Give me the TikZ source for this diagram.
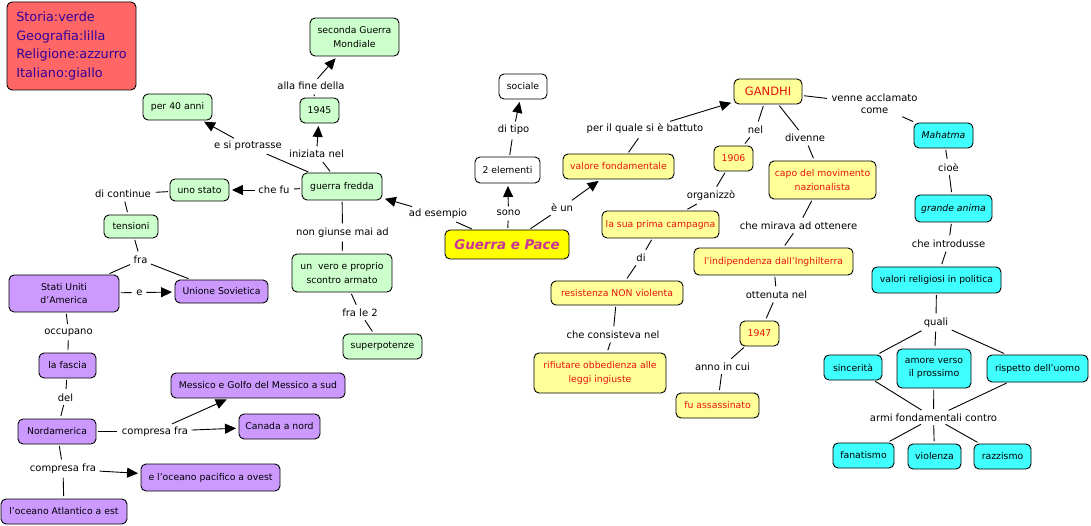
\documentclass[tikz,border=0pt]{standalone}
\usepackage{fontspec}
\setmainfont{DejaVu Sans}
\usetikzlibrary{arrows.meta}
\pgfdeclarelayer{bg}
\pgfsetlayers{bg,main}
\definecolor{legenda}{HTML}{FF6666}
\definecolor{legtesto}{HTML}{330099}
\definecolor{verde}{HTML}{CCFFCC}
\definecolor{lilla}{HTML}{CC99FF}
\definecolor{azzurro}{HTML}{40FFFF}
\definecolor{giallo}{HTML}{FFFF99}
\definecolor{gialloforte}{HTML}{FFFF00}
\definecolor{rosso}{HTML}{E8120C}
\definecolor{magenta}{HTML}{CC3399}
\tikzset{
    concept/.style={rectangle, rounded corners=5pt, draw, line width=0.9pt, align=center,
        inner sep=0pt, font=\fontsize{9.3}{13.5}\selectfont},
    storia/.style={concept, fill=verde},
    geo/.style={concept, fill=lilla},
    relig/.style={concept, fill=azzurro},
    ital/.style={concept, fill=giallo, text=rosso},
    neutro/.style={concept, fill=white},
    gep/.style={concept, fill=gialloforte, text=magenta, font=\fontsize{13.4}{15}\selectfont\bfseries\itshape},
    lnk/.style={inner sep=2pt, align=center, font=\fontsize{10}{12}\selectfont},
    every edge/.append style={line width=0.9pt, shorten <=1.5pt, shorten >=2.5pt},
    >={Triangle[length=11pt, width=10pt]}
}

\begin{document}
\begin{tikzpicture}[x=1pt, y=-1pt]
    \useasboundingbox (0,0) rectangle (1091,526);

    % legenda
    \node (leg) at (71.5,46) [concept, fill=legenda, text=legtesto, align=left, minimum width=129, minimum height=88,
        font=\fontsize{12.8}{18.7}\selectfont] {Storia:verde\\Geografia:lilla\\Religione:azzurro\\Italiano:giallo};

    % storia
    \node (sgm) at (354.5,37) [storia, minimum width=89, minimum height=38] {seconda Guerra\\Mondiale};
    \node (anni) at (177.5,107) [storia, minimum width=69, minimum height=26] {per 40 anni};
    \node (n1945) at (319.5,110.5) [storia, minimum width=39, minimum height=25] {1945};
    \node (gf) at (342,186.5) [storia, minimum width=80, minimum height=27] {guerra fredda};
    \node (stato) at (199.5,190) [storia, minimum width=59, minimum height=22] {uno stato};
    \node (tens) at (131,226.5) [storia, minimum width=54, minimum height=23] {tensioni};
    \node (scontro) at (342,273) [storia, minimum width=100, minimum height=38] {un \ vero e proprio\\scontro armato};
    \node (superp) at (382.5,346.5) [storia, minimum width=79, minimum height=25] {superpotenze};

    % geografia
    \node (usa) at (64,293.5) [geo, minimum width=110, minimum height=37] {Stati Uniti\\d'America};
    \node (urss) at (221.5,291.5) [geo, minimum width=93, minimum height=23] {Unione Sovietica};
    \node (fascia) at (67.5,365.5) [geo, minimum width=57, minimum height=25] {la fascia};
    \node (messico) at (258,385.5) [geo, minimum width=174, minimum height=25] {Messico e Golfo del Messico a sud};
    \node (canada) at (279.5,426.5) [geo, minimum width=81, minimum height=25] {Canada a nord};
    \node (nord) at (57,431.5) [geo, minimum width=78, minimum height=25] {Nordamerica};
    \node (pacif) at (210.5,477.5) [geo, minimum width=139, minimum height=27] {e l'oceano pacifico a ovest};
    \node (atl) at (64,511.5) [geo, minimum width=126, minimum height=25] {l'oceano Atlantico a est};

    % centro
    \node (gp) at (507,244.5) [gep, minimum width=124, minimum height=29] {Guerra e Pace};
    \node (elem) at (507.5,170) [neutro, minimum width=65, minimum height=26] {2 elementi};
    \node (sociale) at (523,86.5) [neutro, minimum width=48, minimum height=25] {sociale};

    % italiano
    \node (valore) at (618.5,166.5) [ital, minimum width=111, minimum height=25] {valore fondamentale};
    \node (gandhi) at (768,91.5) [ital, minimum width=68, minimum height=25, font=\fontsize{11.5}{13}\selectfont] {GANDHI};
    \node (n1906) at (733.5,158.5) [ital, minimum width=39, minimum height=25] {1906};
    \node (capo) at (822.5,180) [ital, minimum width=107, minimum height=38] {capo del movimento\\nazionalista};
    \node (camp) at (660.5,224.5) [ital, minimum width=117, minimum height=27] {la sua prima campagna};
    \node (indip) at (773.5,261.5) [ital, minimum width=159, minimum height=27] {l'indipendenza dall'Inghilterra};
    \node (resist) at (617,293) [ital, minimum width=132, minimum height=24] {resistenza NON violenta};
    \node (n1947) at (759.5,333.5) [ital, minimum width=39, minimum height=25] {1947};
    \node (rifiut) at (600,373) [ital, minimum width=132, minimum height=40] {rifiutare obbedienza alle\\leggi ingiuste};
    \node (assass) at (717.5,405.5) [ital, minimum width=83, minimum height=25] {fu assassinato};

    % religione
    \node (mahatma) at (943.5,135.5) [relig, minimum width=59, minimum height=25, font=\fontsize{9.3}{13.5}\selectfont\itshape] {Mahatma};
    \node (anima) at (953.5,208.5) [relig, minimum width=77, minimum height=27, font=\fontsize{9.3}{13.5}\selectfont\itshape] {grande anima};
    \node (valori) at (936.5,280) [relig, minimum width=129, minimum height=26] {valori religiosi in politica};
    \node (sinc) at (853,367.5) [relig, minimum width=58, minimum height=25] {sincerità};
    \node (amore) at (934,368.5) [relig, minimum width=74, minimum height=39] {amore verso\\il prossimo};
    \node (risp) at (1037.5,368.5) [relig, minimum width=101, minimum height=27] {rispetto dell'uomo};
    \node (fanat) at (863.5,455.5) [relig, minimum width=61, minimum height=25] {fanatismo};
    \node (viol) at (934.5,456.5) [relig, minimum width=53, minimum height=25] {violenza};
    \node (razz) at (1002.5,456.5) [relig, minimum width=57, minimum height=25] {razzismo};

    % frasi legame
    \node (lfine) at (311,86) [lnk] {alla fine della};
    \node (lprot) at (248,146) [lnk] {e si protrasse};
    \node (liniz) at (316.5,154) [lnk] {iniziata nel};
    \node (lchefu) at (274,190) [lnk] {che fu};
    \node (lcont) at (123,194) [lnk] {di continue};
    \node (lesempio) at (438,214) [lnk] {ad esempio};
    \node (lgiunse) at (342.5,233) [lnk] {non giunse mai ad};
    \node (lfra) at (140.5,260) [lnk] {fra};
    \node (le) at (139.5,292.5) [lnk] {e};
    \node (lfrale) at (360,313) [lnk] {fra le 2};
    \node (locc) at (68.5,332.5) [lnk] {occupano};
    \node (ldel) at (65.5,397.5) [lnk] {del};
    \node (lcomp) at (155,431.5) [lnk] {compresa fra};
    \node (lcompb) at (63,469) [lnk] {compresa fra};
    \node (ltipo) at (513.5,130) [lnk] {di tipo};
    \node (lsono) at (508.5,213) [lnk] {sono};
    \node (leun) at (562,207.5) [lnk] {è un};
    \node (lbatt) at (645,129) [lnk] {per il quale si è battuto};
    \node (lnel) at (755.5,130) [lnk] {nel};
    \node (ldiv) at (805,138) [lnk] {divenne};
    \node (lacc) at (874.5,104) [lnk] {venne acclamato\\come};
    \node (lorg) at (711,196) [lnk] {organizzò};
    \node (lmira) at (798.5,226) [lnk] {che mirava ad ottenere};
    \node (ldi) at (641,258) [lnk] {di};
    \node (lott) at (776.5,295) [lnk] {ottenuta nel};
    \node (lcons) at (613,335) [lnk] {che consisteva nel};
    \node (lanno) at (722.5,366.5) [lnk] {anno in cui};
    \node (lcioe) at (948.5,167.5) [lnk] {cioè};
    \node (lintr) at (948.5,244) [lnk] {che introdusse};
    \node (lquali) at (936,323) [lnk] {quali};
    \node (larmi) at (933.5,417.5) [lnk] {armi fondamentali contro};

    \begin{pgfonlayer}{bg}
        \draw (gf) edge (liniz);
        \draw (liniz) edge[->] (n1945);
        \draw (n1945) edge (lfine);
        \draw (lfine) edge[->] (sgm);
        \draw (gf) edge (lprot);
        \draw (lprot) edge[->] (anni);
        \draw (gf) edge (lchefu);
        \draw (lchefu) edge[->] (stato);
        \draw (stato) edge (lcont);
        \draw (lcont) edge (tens);
        \draw (tens) edge (lfra);
        \draw (lfra) edge (usa);
        \draw (lfra) edge (urss);
        \draw (usa) edge (le);
        \draw (le) edge[->] (urss);
        \draw (usa) edge (locc);
        \draw (locc) edge (fascia);
        \draw (fascia) edge (ldel);
        \draw (ldel) edge (nord);
        \draw (nord) edge (lcomp);
        \draw (lcomp) edge[->] (messico);
        \draw (lcomp) edge[->] (canada);
        \draw (nord) edge (lcompb);
        \draw (lcompb) edge[->] (pacif);
        \draw (lcompb) edge (atl);
        \draw (gf) edge (lgiunse);
        \draw (lgiunse) edge (scontro);
        \draw (scontro) edge (lfrale);
        \draw (lfrale) edge (superp);

        \draw (gp) edge (lesempio);
        \draw (lesempio) edge[->] (gf);
        \draw (gp) edge (lsono);
        \draw (lsono) edge[->] (elem);
        \draw (elem) edge (ltipo);
        \draw (ltipo) edge[->] (sociale);
        \draw (gp) edge (leun);
        \draw (leun) edge[->] (valore);
        \draw (valore) edge (lbatt);
        \draw (lbatt) edge[->] (gandhi);

        \draw (gandhi) edge (lnel);
        \draw (lnel) edge (n1906);
        \draw (n1906) edge (lorg);
        \draw (lorg) edge (camp);
        \draw (camp) edge (ldi);
        \draw (ldi) edge (resist);
        \draw (resist) edge (lcons);
        \draw (lcons) edge (rifiut);
        \draw (gandhi) edge (ldiv);
        \draw (ldiv) edge (capo);
        \draw (capo) edge (lmira);
        \draw (lmira) edge (indip);
        \draw (indip) edge (lott);
        \draw (lott) edge (n1947);
        \draw (n1947) edge (lanno);
        \draw (lanno) edge (assass);

        \draw (gandhi) edge (lacc);
        \draw (lacc) edge (mahatma);
        \draw (mahatma) edge (lcioe);
        \draw (lcioe) edge (anima);
        \draw (anima) edge (lintr);
        \draw (lintr) edge (valori);
        \draw (valori) edge (lquali);
        \draw (lquali) edge (sinc);
        \draw (lquali) edge (amore);
        \draw (lquali) edge (risp);
        \draw (sinc) edge (larmi);
        \draw (amore) edge (larmi);
        \draw (risp) edge (larmi);
        \draw (larmi) edge (fanat);
        \draw (larmi) edge (viol);
        \draw (larmi) edge (razz);
    \end{pgfonlayer}
\end{tikzpicture}
\end{document}
